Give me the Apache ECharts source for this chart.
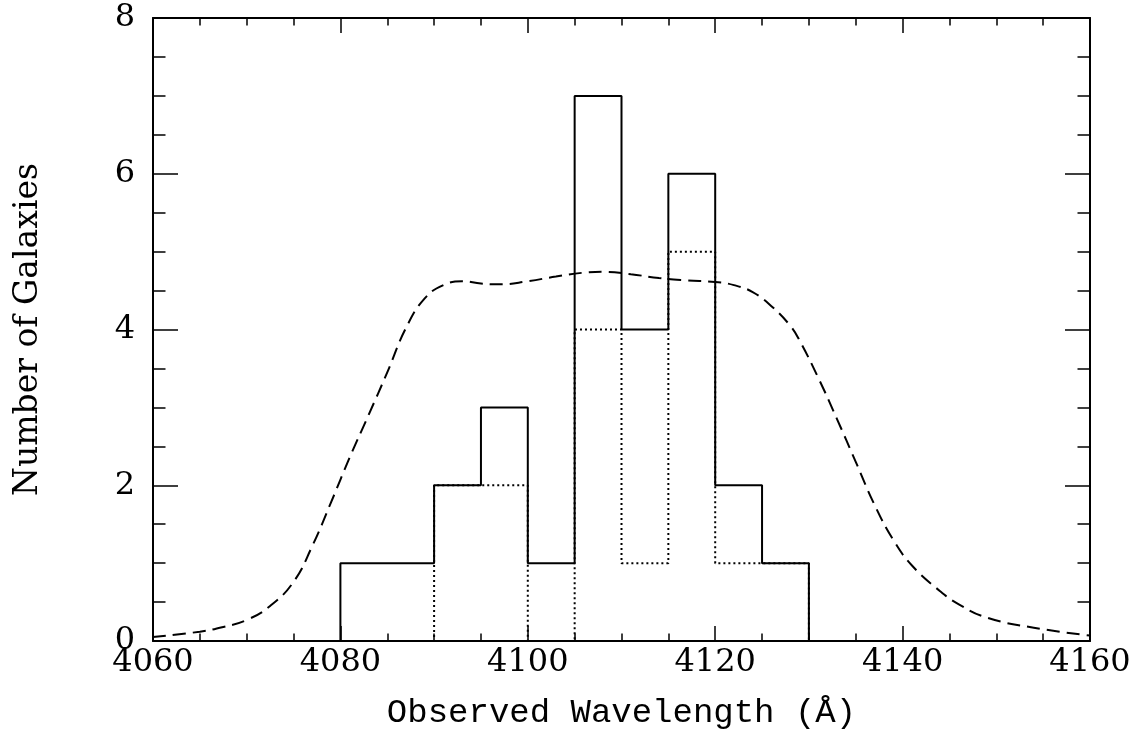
<!DOCTYPE html>
<html>
<head>
<meta charset="utf-8">
<script src="https://cdn.jsdelivr.net/npm/echarts@6/dist/echarts.min.js"></script>
<style>
html,body{margin:0;padding:0;background:#fff;}
#chart{width:1141px;height:737px;}
</style>
</head>
<body>
<div id="chart"></div>
<script>
// Histogram bins (5 Å wide), edges
var binEdges = [4080, 4085, 4090, 4095, 4100, 4105, 4110, 4115, 4120, 4125, 4130];
// All galaxies (solid histogram)
var allCounts = [1, 1, 2, 3, 1, 7, 4, 6, 2, 1];
// Subsample (dotted histogram)
var subCounts = [0, 0, 2, 2, 0, 4, 1, 5, 1, 1];
// Filter transmission curve (dashed), scaled
var filterWave = [4060, 4065, 4067.5, 4070, 4072.5, 4075, 4077, 4079, 4081, 4083, 4085, 4087, 4089, 4091, 4093, 4095, 4097, 4100, 4103, 4106, 4108, 4111, 4114, 4117, 4120, 4122, 4124, 4126, 4128, 4129, 4131, 4133, 4135, 4137, 4139, 4141, 4144, 4146, 4149, 4154, 4160];
var filterVal  = [0.05, 0.12, 0.18, 0.27, 0.45, 0.76, 1.22, 1.78, 2.36, 2.9, 3.45, 4.02, 4.4, 4.57, 4.62, 4.59, 4.58, 4.62, 4.68, 4.73, 4.74, 4.71, 4.66, 4.63, 4.61, 4.57, 4.48, 4.3, 4.05, 3.86, 3.38, 2.85, 2.3, 1.75, 1.3, 0.97, 0.64, 0.47, 0.3, 0.17, 0.07];
var xTicks = [4060, 4080, 4100, 4120, 4140, 4160];
var yTicks = [0, 2, 4, 6, 8];

function outline(edges, counts, fullRange) {
  var pts = [];
  if (fullRange) pts.push([xTicks[0], 0]);
  pts.push([edges[0], 0]);
  for (var i = 0; i < counts.length; i++) {
    pts.push([edges[i], counts[i]]);
    pts.push([edges[i + 1], counts[i]]);
  }
  pts.push([edges[edges.length - 1], 0]);
  if (fullRange) pts.push([xTicks[xTicks.length - 1], 0]);
  return pts;
}
var filterData = filterWave.map(function (w, i) { return [w, filterVal[i]]; });

var serif = '"DejaVu Serif", serif';
var axisLineStyle = { color: '#000', width: 2 };
function plain(v) { return String(v); }
function xAx(pos, showLabel) {
  return {
    type: 'value', position: pos, min: xTicks[0], max: xTicks[xTicks.length - 1], interval: 20,
    axisLine: { show: true, onZero: false, lineStyle: axisLineStyle },
    axisTick: { show: true, inside: true, length: 15, lineStyle: { color: '#000', width: 1.5 } },
    minorTick: { show: true, splitNumber: 4, length: 7.5, lineStyle: { color: '#000', width: 1.5 } },
    splitLine: { show: false },
    axisLabel: { show: showLabel, color: '#000', fontFamily: serif, fontSize: 32, margin: 6, formatter: plain },
    name: showLabel ? 'Observed Wavelength (Å)' : '',
    nameLocation: 'middle', nameGap: 55,
    nameTextStyle: { color: '#000', fontFamily: '"Liberation Mono", monospace', fontSize: 34 }
  };
}
function yAx(pos, showLabel) {
  return {
    type: 'value', position: pos, min: yTicks[0], max: yTicks[yTicks.length - 1], interval: 2,
    axisLine: { show: true, onZero: false, lineStyle: axisLineStyle },
    axisTick: { show: true, inside: true, length: 25, lineStyle: { color: '#000', width: 1.5 } },
    minorTick: { show: true, splitNumber: 4, length: 12.5, lineStyle: { color: '#000', width: 1.5 } },
    splitLine: { show: false },
    axisLabel: { show: showLabel, color: '#000', fontFamily: serif, fontSize: 32, margin: 18, formatter: plain },
    name: showLabel ? 'Number of Galaxies' : '',
    nameLocation: 'middle', nameGap: 108, nameRotate: 90,
    nameTextStyle: { color: '#000', fontFamily: serif, fontSize: 33 }
  };
}

var chart = echarts.init(document.getElementById('chart'));
chart.setOption({
  animation: false,
  backgroundColor: '#fff',
  grid: { left: 153, right: 51, top: 18, bottom: 96 },
  xAxis: [xAx('bottom', true), xAx('top', false)],
  yAxis: [yAx('left', true), yAx('right', false)],
  series: [
    {
      type: 'line', xAxisIndex: 0, yAxisIndex: 0, symbol: 'none', z: 2,
      data: filterData, smooth: 0.45,
      lineStyle: { color: '#000', width: 2, type: [13, 7] }
    },
    {
      type: 'line', xAxisIndex: 0, yAxisIndex: 0, symbol: 'none', z: 3,
      data: outline(binEdges, subCounts, true),
      lineStyle: { color: '#000', width: 2, type: [2, 3] }
    },
    {
      type: 'line', xAxisIndex: 0, yAxisIndex: 0, symbol: 'none', z: 4,
      data: outline(binEdges, allCounts, false),
      lineStyle: { color: '#000', width: 2, type: 'solid' }
    }
  ]
});
</script>
</body>
</html>
